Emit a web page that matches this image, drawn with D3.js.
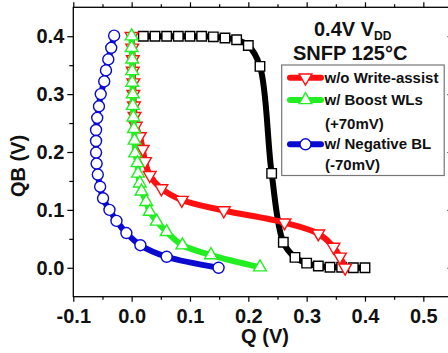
<!DOCTYPE html>
<html>
<head>
<meta charset="utf-8">
<script src="https://cdn.jsdelivr.net/npm/d3@7"></script>
<style>
    body { margin: 0; background: #fff; }
    svg { display: block; font-family: "Liberation Sans", Arial, sans-serif; font-weight: bold; }
</style>
</head>
<body>
<svg id="chart" width="448" height="353"></svg>
<script>
    /*
    Data: Q (x) and QB (y) in volts
     */
    var blackQ  = [0.02, 0.04, 0.06, 0.08, 0.10, 0.12, 0.14, 0.16, 0.18, 0.20, 0.22, 0.24, 0.26, 0.28, 0.30, 0.32, 0.34, 0.36, 0.38, 0.40];
    var blackQB = [0.400, 0.400, 0.400, 0.400, 0.400, 0.400, 0.399, 0.397, 0.394, 0.384, 0.348, 0.163, 0.044, 0.018, 0.008, 0.003, 0.001, 0.001, 0.000, 0.000];

    var redQ  = [0.000, 0.001, 0.002, 0.002, 0.003, 0.003, 0.004, 0.005, 0.007, 0.014, 0.019, 0.023, 0.031, 0.051, 0.086, 0.158, 0.262, 0.320, 0.346, 0.357, 0.366];
    var redQB = [0.400, 0.380, 0.360, 0.340, 0.320, 0.300, 0.280, 0.262, 0.245, 0.227, 0.205, 0.184, 0.160, 0.137, 0.117, 0.099, 0.078, 0.059, 0.036, 0.019, 0.000];

    var greenQ  = [0.000, 0.000, 0.001, 0.001, 0.001, 0.002, 0.002, 0.003, 0.004, 0.005, 0.006, 0.010, 0.011, 0.014, 0.017, 0.025, 0.031, 0.043, 0.060, 0.087, 0.136, 0.220];
    var greenQB = [0.400, 0.380, 0.360, 0.340, 0.320, 0.300, 0.280, 0.260, 0.240, 0.220, 0.198, 0.181, 0.163, 0.146, 0.132, 0.114, 0.097, 0.080, 0.062, 0.039, 0.022, 0.001];

    var blueQ  = [-0.030, -0.035, -0.040, -0.044, -0.047, -0.053, -0.056, -0.059, -0.061, -0.061, -0.061, -0.060, -0.058, -0.054, -0.049, -0.038, -0.026, -0.009, 0.015, 0.060, 0.149];
    var blueQB = [0.401, 0.380, 0.360, 0.341, 0.322, 0.300, 0.279, 0.259, 0.238, 0.219, 0.199, 0.180, 0.161, 0.140, 0.120, 0.100, 0.081, 0.060, 0.039, 0.019, 0.000];

    var xTicks = [-0.1, 0.0, 0.1, 0.2, 0.3, 0.4, 0.5];
    var xMinor = [-0.05, 0.05, 0.15, 0.25, 0.35, 0.45];
    var yTicks = [0.0, 0.1, 0.2, 0.3, 0.4];
    var yMinor = [0.05, 0.15, 0.25, 0.35];

    var legendLabels = ["w/o Write-assist", "w/ Boost WLs", "w/ Negative BL"];

    /*
    Plot frame: right edge of the frame is just outside the picture
     */
    var svg = d3.select("#chart");
    var plotLeft = 73.3, plotRight = 452.5, plotTop = 7.3, plotBottom = 296.7;

    var x = d3.scaleLinear().domain([-0.1, 0.55]).range([plotLeft, plotRight]);
    var y = d3.scaleLinear().domain([-0.05, 0.45]).range([plotBottom, plotTop]);

    svg.append("rect").attr("width", 448).attr("height", 353).attr("fill", "#fff");

    function fmt(d) { return d.toFixed(1); }

    //major + minor ticks on all four sides
    function addAxis(axis, tx, ty, values, size, labels) {
        var g = svg.append("g")
            .attr("transform", "translate(" + tx + "," + ty + ")")
            .call(axis.tickValues(values).tickSize(size).tickSizeOuter(0)
                .tickFormat(labels ? fmt : ""));
        g.select(".domain").remove();
        g.selectAll("line").attr("stroke", "#000").attr("stroke-width", 1.2);
        g.selectAll("text").attr("font-size", 20).attr("font-weight", "bold")
            .attr("font-family", "Liberation Sans, Arial, sans-serif").attr("fill", "#111");
        return g;
    }

    addAxis(d3.axisBottom(x).tickPadding(7), 0, plotBottom, xTicks, 5, true);
    addAxis(d3.axisBottom(x), 0, plotBottom, xMinor, 3, false);
    addAxis(d3.axisTop(x), 0, plotTop, xTicks, 5, false);
    addAxis(d3.axisTop(x), 0, plotTop, xMinor, 3, false);
    addAxis(d3.axisLeft(y).tickPadding(3), plotLeft, 0, yTicks, 6, true);
    addAxis(d3.axisLeft(y), plotLeft, 0, yMinor, 4, false);
    addAxis(d3.axisRight(y), plotRight, 0, yTicks, -5, false);
    addAxis(d3.axisRight(y), plotRight, 0, yMinor, -3, false);

    svg.append("rect")
        .attr("x", plotLeft).attr("y", plotTop)
        .attr("width", plotRight - plotLeft).attr("height", plotBottom - plotTop)
        .attr("fill", "none").attr("stroke", "#000").attr("stroke-width", 1.3);

    /*
    Axis titles
     */
    svg.append("text").attr("x", 265).attr("y", 343)
        .attr("text-anchor", "middle").attr("font-size", 20).attr("fill", "#111")
        .text("Q (V)");
    svg.append("text")
        .attr("transform", "translate(25,166) rotate(-90)")
        .attr("text-anchor", "middle").attr("font-size", 20).attr("fill", "#111")
        .text("QB (V)");

    /*
    Series: thick line with open markers on top
     */
    var line = d3.line()
        .x(function(d) { return x(d[0]); })
        .y(function(d) { return y(d[1]); })
        .curve(d3.curveCatmullRom.alpha(0.5));

    var symSquare = d3.symbol().type(d3.symbolSquare).size(90)();
    var symTri = d3.symbol().type(d3.symbolTriangle).size(70)();
    var symCircle = d3.symbol().type(d3.symbolCircle).size(95)();

    var series = [
        {qs: blackQ, qbs: blackQB, color: "#000000", sym: symSquare, rot: 0},
        {qs: redQ, qbs: redQB, color: "#ff1010", sym: symTri, rot: 180},
        {qs: greenQ, qbs: greenQB, color: "#22ee22", sym: symTri, rot: 0},
        {qs: blueQ, qbs: blueQB, color: "#0a0ad0", sym: symCircle, rot: 0}
    ];

    series.forEach(function(s) {
        var pts = s.qs.map(function(q, i) { return [q, s.qbs[i]]; });
        svg.append("path")
            .attr("d", line(pts))
            .attr("fill", "none")
            .attr("stroke", s.color)
            .attr("stroke-width", 6)
            .attr("stroke-linejoin", "round");
        svg.append("g").selectAll("path")
            .data(pts)
            .join("path")
            .attr("d", s.sym)
            .attr("transform", function(d) {
                return "translate(" + x(d[0]) + "," + y(d[1]) + ") rotate(" + s.rot + ")";
            })
            .attr("fill", "#fff")
            .attr("stroke", s.color)
            .attr("stroke-width", 1.4);
    });

    /*
    Condition text in the upper right
     */
    var title = svg.append("text").attr("x", 314).attr("y", 36)
        .attr("font-size", 20).attr("fill", "#111");
    title.append("tspan").text("0.4V V");
    title.append("tspan").attr("font-size", 12).attr("dy", 4).text("DD");
    svg.append("text").attr("x", 293).attr("y", 60)
        .attr("font-size", 20).attr("fill", "#111")
        .text("SNFP 125°C");

    /*
    Legend
     */
    var lg = svg.append("g");
    lg.append("rect")
        .attr("x", 281.7).attr("y", 65).attr("width", 162.5).attr("height", 110.5)
        .attr("fill", "#fff").attr("stroke", "#777").attr("stroke-width", 1.2);

    var legendRows = [77.7, 100, 144.3];
    [1, 2, 3].forEach(function(k, i) {
        var s = series[k];
        var cy = legendRows[i];
        lg.append("line")
            .attr("x1", 290).attr("x2", 321).attr("y1", cy).attr("y2", cy)
            .attr("stroke", s.color).attr("stroke-width", 6).attr("stroke-linecap", "round");
        lg.append("path")
            .attr("d", s.sym)
            .attr("transform", "translate(305.5," + cy + ") rotate(" + s.rot + ")")
            .attr("fill", "#fff").attr("stroke", s.color).attr("stroke-width", 1.4);
        lg.append("text").attr("x", 324.5).attr("y", cy + 5)
            .attr("font-size", 15).attr("fill", "#111")
            .text(legendLabels[i]);
    });
    lg.append("text").attr("x", 325).attr("y", 129).attr("font-size", 15).attr("fill", "#111").text("(+70mV)");
    lg.append("text").attr("x", 325).attr("y", 170).attr("font-size", 15).attr("fill", "#111").text("(-70mV)");
</script>
</body>
</html>
